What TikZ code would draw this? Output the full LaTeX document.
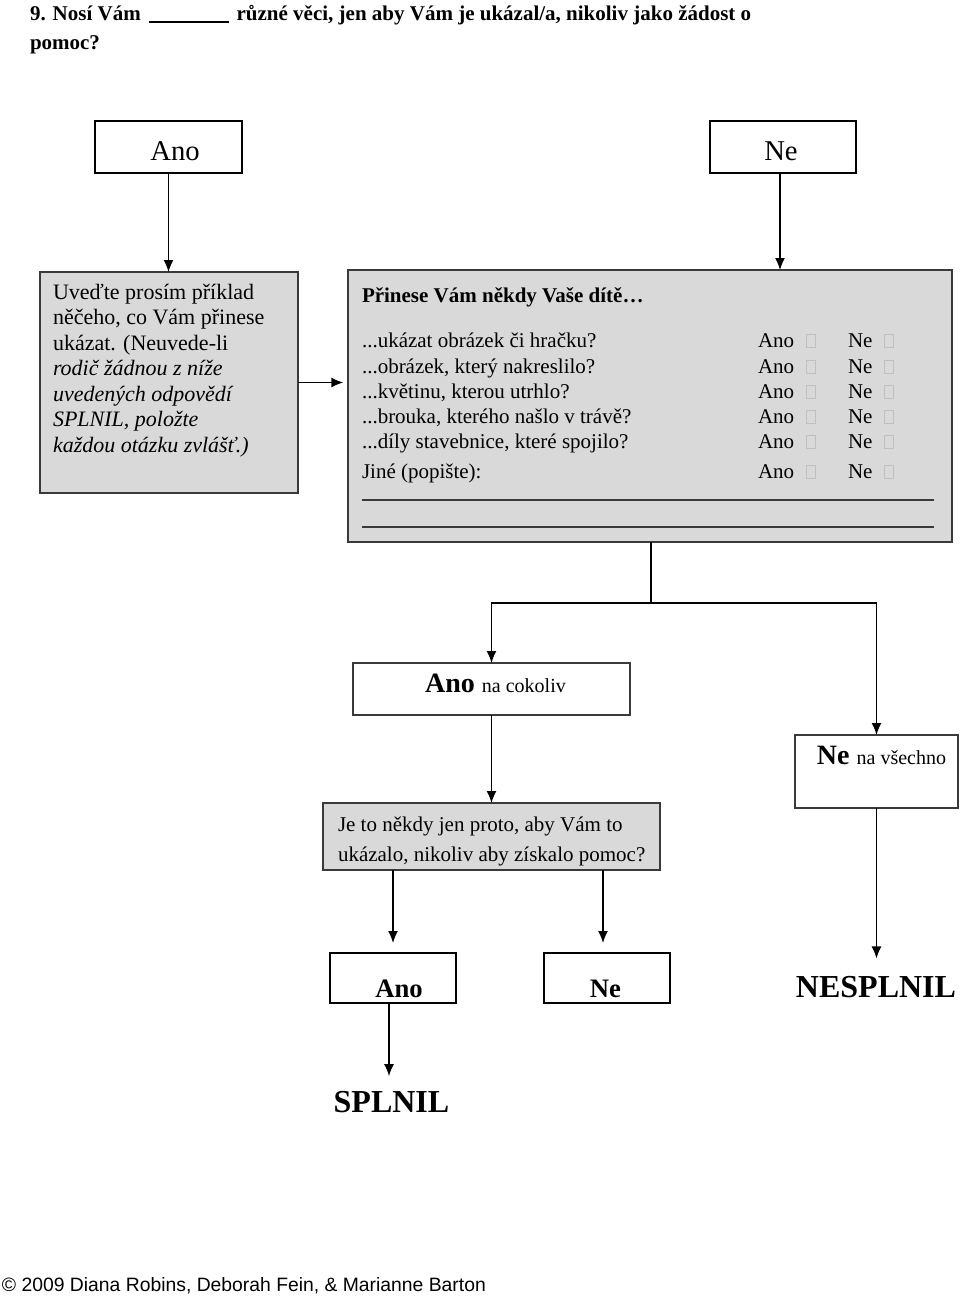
\documentclass[tikz,border=0pt]{standalone}
\usepackage{fontspec}
\setmainfont{Liberation Serif}
\newfontfamily\arialfont{Liberation Sans}
\usetikzlibrary{arrows.meta}
\definecolor{boxgray}{HTML}{D9D9D9}
\definecolor{edgegray}{HTML}{3A3A3A}
\newcommand\fsz[1]{\fontsize{#1}{#1}\selectfont}
\begin{document}
\begin{tikzpicture}[x=0.75pt,y=-0.75pt,
  every node/.style={inner sep=0pt, outer sep=0pt},
  frame/.style={draw=black, line width=1.4pt},
  grayframe/.style={draw=edgegray, fill=boxgray, line width=1.5pt},
  arr/.style={line width=1.1pt, -{Latex[length=9pt,width=7.5pt]}},
  ln/.style={line width=1.1pt},
  txt/.style={anchor=base west},
  ctr/.style={anchor=base},
  chk/.style={draw=black!25, line width=0.5pt},
]
\useasboundingbox (0,0) rectangle (960,1296);

% heading
\node[txt] (h1) at (30,20) {\fsz{15.75}\bfseries 9. Nosí Vám \hspace{64pt} různé věci, jen aby Vám je ukázal/a, nikoliv jako žádost o};
\draw[line width=0.9pt] (149,22) -- (229,22);
\node[txt] (h2) at (30,49) {\fsz{15.75}\bfseries pomoc?};

% top boxes
\node[frame, minimum width=110.25pt, minimum height=39pt] (anoT) at (168.5,147) {};
\node[ctr] (anoTt) at (175,160) {\fsz{21.5}Ano};
\node[frame, minimum width=109.5pt, minimum height=39pt] (neT) at (783,147) {};
\node[ctr] (neTt) at (781,160) {\fsz{21.5}Ne};

% gray boxes
\node[grayframe, minimum width=193.5pt, minimum height=165.75pt] (lbox) at (169,382.5) {};
\node[grayframe, minimum width=453pt, minimum height=204pt] (rbox) at (650,406) {};

% left box text
\node[txt] (l1) at (53,299) {\fsz{16.5}Uveďte prosím příklad};
\node[txt] (l2) at (53,324.5) {\fsz{16.5}něčeho, co Vám přinese};
\node[txt] (l3) at (53,350) {\fsz{16.5}ukázat. (Neuvede-li};
\node[txt] (l4) at (53,375.5) {\fsz{16.5}\itshape rodič žádnou z níže};
\node[txt] (l5) at (53,401) {\fsz{16.5}\itshape uvedených odpovědí};
\node[txt] (l6) at (53,426.5) {\fsz{16.5}\itshape SPLNIL, položte};
\node[txt] (l7) at (53,452) {\fsz{16.5}\itshape každou otázku zvlášť.)};

% right box text
\node[txt] (rh) at (362,302) {\fsz{15.75}\bfseries Přinese Vám někdy Vaše dítě…};
\node[txt] (r1) at (362,347) {\fsz{15.75}...ukázat obrázek či hračku?};
\node[txt] (r2) at (362,373) {\fsz{15.75}...obrázek, který nakreslilo?};
\node[txt] (r3) at (362,398) {\fsz{15.75}...květinu, kterou utrhlo?};
\node[txt] (r4) at (362,423) {\fsz{15.75}...brouka, kterého našlo v trávě?};
\node[txt] (r5) at (362,448) {\fsz{15.75}...díly stavebnice, které spojilo?};
\node[txt] (r6) at (362,478) {\fsz{15.75}Jiné (popište):};
\foreach \y/\n in {347/a,373/b,398/c,423/d,448/e,478/f}{
  \node[txt] (ano\n) at (758,\y) {\fsz{15.75}Ano};
  \node[txt] (ne\n) at (848,\y) {\fsz{15.75}Ne};
  \draw[chk] (806,\y-13) rectangle (815,\y);
  \draw[chk] (884,\y-13) rectangle (893,\y);
}
\draw[line width=0.9pt, edgegray] (362,500) -- (934,500);
\draw[line width=0.9pt, edgegray] (362,527) -- (934,527);

% middle boxes
\node[frame, draw=edgegray, minimum width=207.75pt, minimum height=39pt] (anoC) at (491.5,689) {};
\node[ctr] (anoCt) at (495.5,692) {\fsz{21}\bfseries Ano \fsz{15}\mdseries na cokoliv};
\node[frame, draw=edgegray, minimum width=122.25pt, minimum height=54.75pt] (neV) at (876.5,771.5) {};
\node[ctr] (neVt) at (881.5,764) {\fsz{21}\bfseries Ne \fsz{15}\mdseries na všechno};

\node[grayframe, minimum width=252.75pt, minimum height=50.25pt] (q) at (491.5,836.5) {};
\node[txt] (q1) at (338,831) {\fsz{15.75}Je to někdy jen proto, aby Vám to};
\node[txt] (q2) at (338,861) {\fsz{15.75}ukázalo, nikoliv aby získalo pomoc?};

% bottom boxes
\node[frame, minimum width=94.5pt, minimum height=37.5pt] (anoB) at (393,978) {};
\node[ctr] (anoBt) at (399,997) {\fsz{20}\bfseries Ano};
\node[frame, minimum width=94.5pt, minimum height=37.5pt] (neB) at (607,978) {};
\node[ctr] (neBt) at (605.5,997) {\fsz{20}\bfseries Ne};
\node[ctr] (nesplnil) at (876,997) {\fsz{24}\bfseries NESPLNIL};
\node[ctr] (splnil) at (391.5,1112) {\fsz{24}\bfseries SPLNIL};

% footer
\node[txt] (foot) at (2,1291) {\arialfont\fsz{14.5}© 2009 Diana Robins, Deborah Fein, \& Marianne Barton};

% connectors
\draw[arr] (anoT.south) -- (anoT.south |- lbox.north);
\draw[arr] (neT.south -| 780,0) -- (780,0 |- rbox.north);
\draw[arr, shorten >=3.5pt] (lbox.east) -- (lbox.east -| rbox.west);
\coordinate (split) at (651,603);
\draw[ln] (651,0 |- rbox.south) -- (split);
\draw[arr] (split) -| (anoC.north);
\draw[arr] (split) -| (neV.north);
\draw[arr] (anoC.south) -- (anoC.south |- q.north);
\draw[arr, shorten >=7.5pt] (q.south -| anoB.north) -- (anoB.north);
\draw[arr, shorten >=7.5pt] (q.south -| 603,0) -- (603,0 |- neB.north);
\draw[arr, shorten >=11pt] (anoB.south -| 389,0) -- (389,0 |- splnil.north);
\draw[arr, shorten >=13pt] (neV.south) -- (neV.south |- nesplnil.north);
\end{tikzpicture}
\end{document}
